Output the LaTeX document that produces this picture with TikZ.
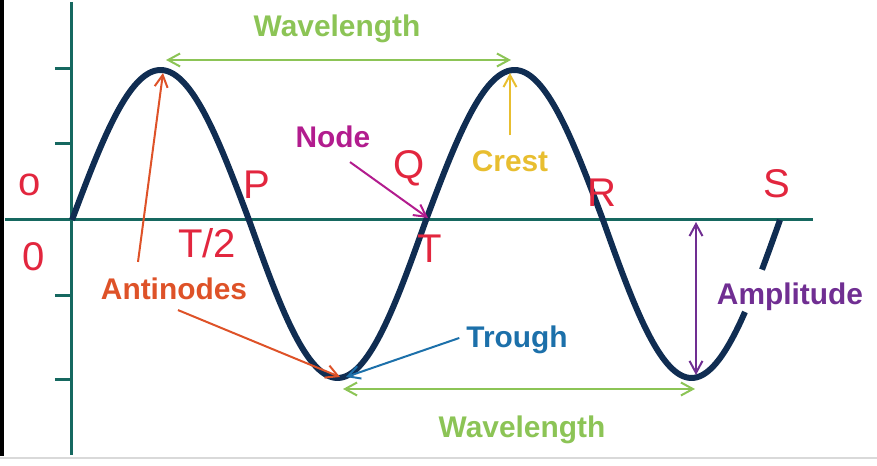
\documentclass[tikz,border=0pt]{standalone}
\usepackage{fontspec}
\setmainfont{Liberation Sans}
\usepackage{xcolor}
\usepackage{tikz}
\usetikzlibrary{arrows.meta}

\definecolor{wavecol}{RGB}{16,45,82}
\definecolor{axiscol}{RGB}{22,104,96}
\definecolor{ptred}{RGB}{226,38,62}
\definecolor{wlgreen}{RGB}{140,196,86}
\definecolor{crestyel}{RGB}{232,190,48}
\definecolor{nodemag}{RGB}{178,28,142}
\definecolor{antiorg}{RGB}{222,82,40}
\definecolor{troughblue}{RGB}{28,112,170}
\definecolor{amppurple}{RGB}{112,46,146}

\begin{document}
\begin{tikzpicture}[x=0.2mm, y=0.2mm,
  axis/.style={axiscol, line width=0.6mm},
  wave/.style={wavecol, line width=1.2mm},
  pt/.style={ptred, font=\fontsize{22.8}{26}\selectfont},
  lbl/.style={font=\fontsize{17}{20}\selectfont\bfseries, inner sep=1pt},
  ptr/.style={line width=0.4mm, -{Straight Barb[length=2.4mm,width=2.6mm]}},
  dblptr/.style={ptr, {Straight Barb[length=2.4mm,width=2.6mm]}-{Straight Barb[length=2.4mm,width=2.6mm]}}]
  \useasboundingbox (-72,-246) rectangle (805,220);
  % edges of the screenshot
  \fill[black] (-72,-236) rectangle (-68,220);
  \draw[black!15, line width=0.4mm] (-72,-238) -- (805,-238);

  % Draw axes
  \coordinate (O) at (0,0);
  \draw[axis] (-67,0) -- (741,0);
  \draw[axis] (0,218) -- (0,-235);
  % ticks
  \foreach \t in {151,76,-76,-160}
    \draw[axis] (-17,\t) -- (0,\t);

  % Draw the wave (crests 150 high, troughs 158 deep, gap for the Amplitude label)
  \draw[wave] plot[domain=0:673, samples=140, smooth]
    (\x, {sin(\x/354*360)*(154-4*sign(sin(\x/354*360)))});
  \draw[wave] plot[domain=690:708, samples=10, smooth]
    (\x, {sin(\x/354*360)*(154-4*sign(sin(\x/354*360)))});

  % points on the wave
  \coordinate (crestA) at (91,150);
  \coordinate (crestB) at (440,150);
  \coordinate (troughA) at (267,-158);
  \coordinate (troughB) at (621,-158);
  \coordinate (zeroT) at (355,0);
  \coordinate (ampbase) at (troughB |- O);

  % point letters
  \node[pt] (o) at (-42,35) {o};
  \node[pt] (zero) at (-38,-37) {0};
  \node[pt] (P) at (185,35) {P};
  \node[pt] (Thalf) at (135,-23) {T/2};
  \node[pt] (Q) at (337,52) {Q};
  \node[pt] (T) at (358,-29) {T};
  \node[pt] (R) at (530,27) {R};
  \node[pt] (S) at (705,36) {S};

  % labels
  \node[lbl, wlgreen] (wltop) at (265,191) {Wavelength};
  \node[lbl, wlgreen] (wlbot) at (450,-210) {Wavelength};
  \node[lbl, crestyel] (crest) at (438,59) {Crest};
  \node[lbl, nodemag] (nodelbl) at (261,83) {Node};
  \node[lbl, antiorg] (antinodes) at (102,-69) {Antinodes};
  \node[lbl, troughblue] (trough) at (445,-120) {Trough};
  \node[lbl, amppurple] (amplitude) at (718,-77) {Amplitude};

  % Draw wavelength arrows
  \draw[dblptr, wlgreen] ([shift={(3,10)}]crestA) -- ([shift={(-1,10)}]crestB);
  \draw[dblptr, wlgreen] ([shift={(4,-11)}]troughA) -- ([shift={(2,-11)}]troughB);

  % Draw pointers
  \draw[ptr, crestyel] ([shift={(0,13)}]crest.north) -- ([shift={(-2,-3)}]crestB);
  \draw[ptr, nodemag] ([shift={(17,-12)}]nodelbl.south) -- ([shift={(1,2)}]zeroT);
  \draw[ptr, antiorg] ([shift={(-36,14)}]antinodes.north) -- ([shift={(0,-3)}]crestA);
  \draw[ptr, antiorg] ([shift={(4,-8)}]antinodes.south) -- ([shift={(1,1)}]troughA);
  \draw[ptr, troughblue] ([shift={(-5,2)}]trough.west) -- ([shift={(7,1)}]troughA);
  \draw[dblptr, amppurple] ([shift={(3,-2)}]ampbase) -- ([shift={(3,3)}]troughB);
\end{tikzpicture}
\end{document}
